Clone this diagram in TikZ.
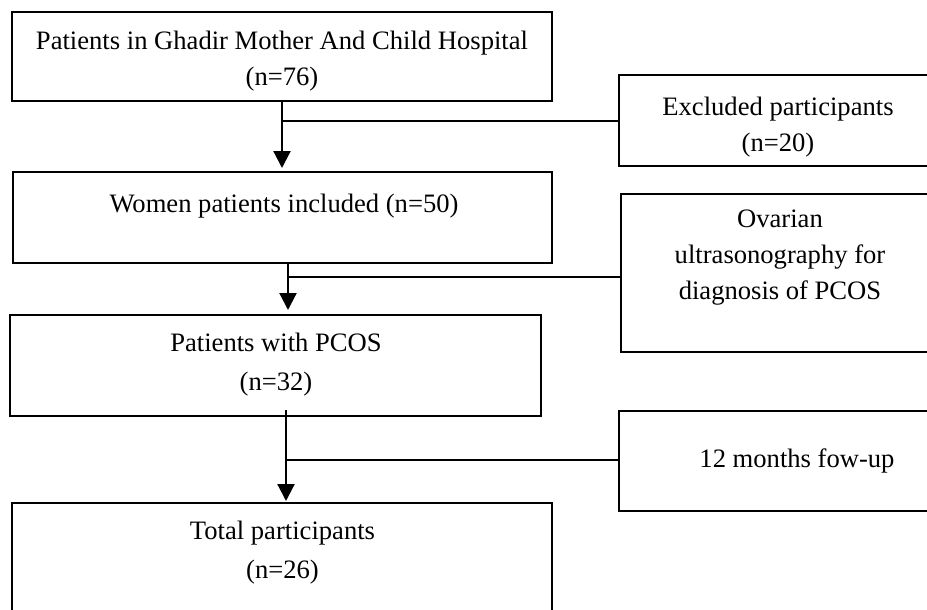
\documentclass[tikz,border=0pt]{standalone}
\usepackage{fontspec}
\setmainfont{Liberation Serif}
\usetikzlibrary{arrows.meta, positioning}

\begin{document}
\begin{tikzpicture}[x=1pt, y=-1pt,
    box/.style={draw=black, line width=2pt, rectangle, inner sep=0pt},
    txt/.style={align=center, inner sep=0pt, font=\fontsize{26.6pt}{36pt}\selectfont},
    wide/.style={font=\fontsize{26.6pt}{39pt}\selectfont},
    flow/.style={line width=2.2pt, -{Triangle[width=17pt, length=17pt]}},
    branch/.style={line width=1.5pt}]
  \useasboundingbox (0, 0) rectangle (927, 610);
  \clip (0, 0) rectangle (927, 610);

  % Main column
  \node[box, minimum width=540pt, minimum height=89pt]  (hosp)  at (282, 56.5)  {};
  \node[box, minimum width=539pt, minimum height=91pt]  (women) at (282.5, 217.5) {};
  \node[box, minimum width=531pt, minimum height=101pt] (pcos)  at (275.5, 365.5) {};
  \node[box, minimum width=540pt, minimum height=124pt] (total) at (282, 565)   {};

  % Side boxes
  \node[box, minimum width=318pt, minimum height=91pt]  (excl)   at (778, 120.5) {};
  \node[box, minimum width=316pt, minimum height=158pt] (ovar)   at (779, 273)   {};
  \node[box, minimum width=318pt, minimum height=100pt] (follow) at (778, 461)   {};

  % Texts
  \node[txt] (hosptxt)         at (282, 61)    {Patients in Ghadir Mother And Child Hospital\\(n=76)};
  \node[txt] (womentxt)        at (284, 206)   {Women patients included (n=50)};
  \node[txt, wide] (pcostxt)   at (276, 365)   {Patients with PCOS\\(n=32)};
  \node[txt, wide] (totaltxt)  at (282.5, 553) {Total participants\\(n=26)};
  \node[txt] (excltxt)         at (778, 127)   {Excluded participants\\(n=20)};
  \node[txt] (ovartxt)         at (780, 258)   {Ovarian\\ultrasonography for\\diagnosis of PCOS};
  \node[txt] (followtxt)       at (797, 461)   {12 months fow-up};

  % Junctions
  \coordinate (j1) at (282, 121);
  \coordinate (j2) at (288, 277);
  \coordinate (j3) at (286, 460);

  % Connectors
  \draw[flow, shorten >=3pt] (j1 |- hosp.south) -- (j1 |- women.north);
  \draw[branch] (j1) -- (j1 -| excl.west);
  \draw[flow, shorten >=4pt] (j2 |- women.south) -- (j2 |- pcos.north);
  \draw[branch] (j2) -- (j2 -| ovar.west);
  \draw[flow, shorten <=-7pt, shorten >=1pt] (j3 |- pcos.south) -- (j3 |- total.north);
  \draw[branch] (j3) -- (j3 -| follow.west);
\end{tikzpicture}
\end{document}
